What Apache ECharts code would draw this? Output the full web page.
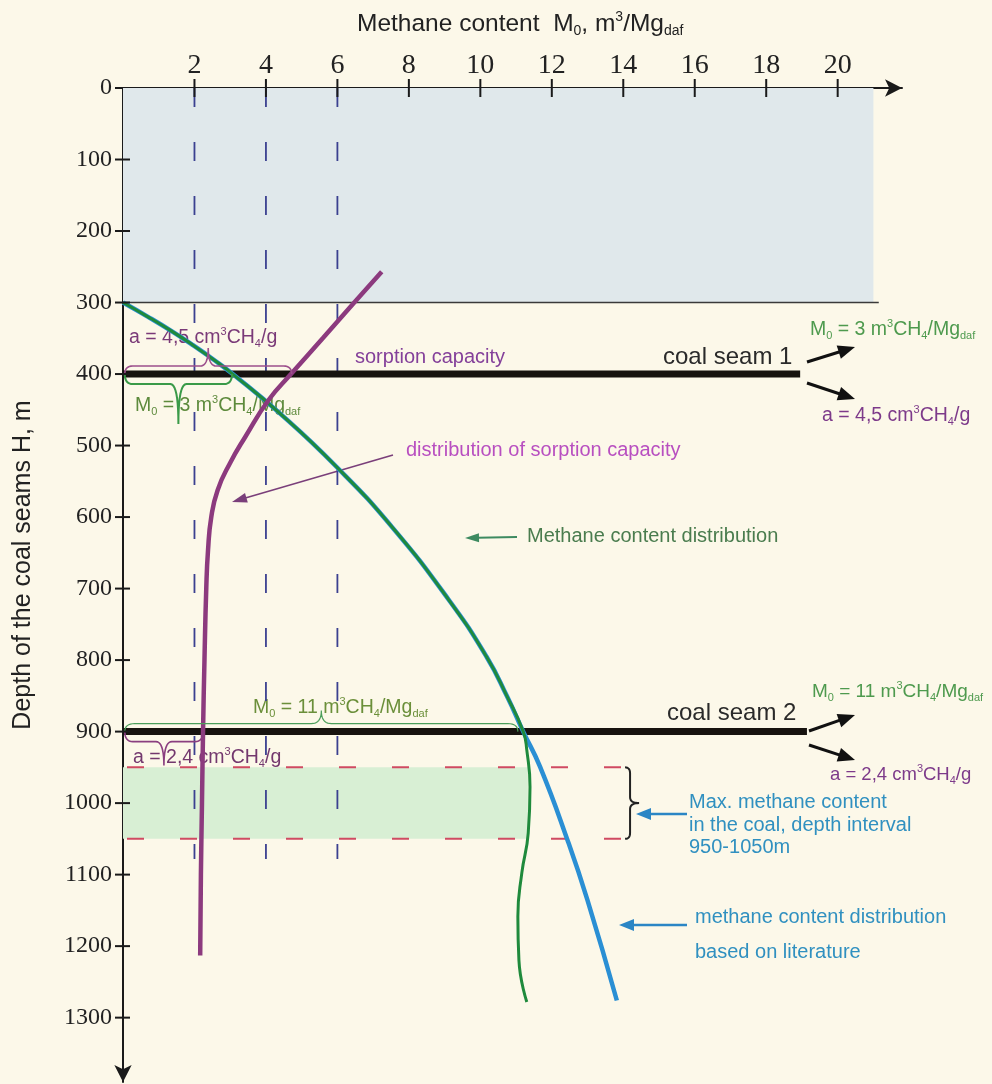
<!DOCTYPE html>
<html><head><meta charset="utf-8">
<script src="https://cdn.jsdelivr.net/npm/echarts@6/dist/echarts.min.js"></script>
<style>html,body{margin:0;padding:0;background:#fcf8e9}#c{width:992px;height:1084px}</style>
</head><body><div id="c"></div>
<script>
// ---------------- data ----------------
const xTickValues = [2, 4, 6, 8, 10, 12, 14, 16, 18, 20];
const depthTickValues = [0, 100, 200, 300, 400, 500, 600, 700, 800, 900, 1000, 1100, 1200, 1300];

const overburdenDepth = [0, 300];
const overburdenXMax = 21;
const maxZoneDepth = [950, 1050];
const maxZoneXMax = 11.33;
const maxZoneLineXMax = 14.05;
const guideX = [2, 4, 6];
const guideDepthEnd = 1078;
const coalSeamDepth = [400, 900];
const coalSeamXEnd = [18.95, 19.14];

// methane content distribution (green)
const methaneDepth = [300, 320, 340, 360, 380, 400, 455, 530, 614, 716, 795, 850, 900, 926, 977, 1042, 1098, 1159, 1220, 1278];
const methaneX     = [0, 0.70, 1.36, 1.97, 2.54, 3.07, 4.39, 5.98, 7.53, 9.12, 10.17, 10.74, 11.2, 11.3, 11.39, 11.34, 11.16, 11.05, 11.08, 11.3];
// methane content distribution based on literature (blue)
const literatureDepth = [300, 320, 340, 360, 380, 400, 455, 530, 614, 716, 795, 850, 900, 949, 1049, 1136, 1276];
const literatureX     = [0, 0.70, 1.36, 1.97, 2.54, 3.07, 4.39, 5.98, 7.53, 9.12, 10.17, 10.74, 11.2, 11.67, 12.42, 13.0, 13.82];
// sorption capacity distribution (purple)
const sorptionDepth = [257, 299, 350, 399, 436, 488, 525, 562, 600, 646, 700, 800, 900, 1000, 1100, 1213];
const sorptionX     = [7.24, 6.49, 5.59, 4.72, 4.08, 3.42, 2.99, 2.65, 2.47, 2.38, 2.33, 2.28, 2.24, 2.21, 2.18, 2.16];

// brace spans: [xStart, xEnd, depth]
const braceSorption1 = [0.05, 4.72, 400];
const braceMethane1  = [0.05, 3.05, 400];
const braceMethane2  = [0.05, 11.05, 900];
const braceSorption2 = [0.05, 2.24, 900];

// ---------------- helpers ----------------
const pairs = (xs, ys) => xs.map((x, i) => [x, ys[i]]);
const SANS = 'Liberation Sans';
const SERIF = 'Liberation Serif';

function quad(pts, p0, c, p1, n) {
  for (let i = 1; i <= n; i++) {
    const t = i / n, u = 1 - t;
    pts.push([u*u*p0[0] + 2*u*t*c[0] + t*t*p1[0], u*u*p0[1] + 2*u*t*c[1] + t*t*p1[1]]);
  }
}
function hBrace(x0, x1, y, s, a, t, r) {
  const xm = (x0 + x1) / 2, h = y + s*a, tip = y + s*t;
  const pts = [[x0, y]];
  quad(pts, [x0, y], [x0, h], [x0 + r, h], 8);
  pts.push([xm - r, h]);
  quad(pts, [xm - r, h], [xm, h], [xm, tip], 10);
  quad(pts, [xm, tip], [xm, h], [xm + r, h], 10);
  pts.push([x1 - r, h]);
  quad(pts, [x1 - r, h], [x1, h], [x1, y], 8);
  return pts;
}
function vBrace(y0, y1, x, s, a, t, r) {
  return hBrace(y0, y1, x, s, a, t, r).map(p => [p[1], p[0]]);
}
function arrow(x1, y1, x2, y2, color, w, hl, hw) {
  const ang = Math.atan2(y2 - y1, x2 - x1), c = Math.cos(ang), s = Math.sin(ang);
  const bx = x2 - hl*c, by = y2 - hl*s;
  return [
    {type: 'line', silent: true, shape: {x1, y1, x2: bx + c*2, y2: by + s*2}, style: {stroke: color, lineWidth: w}},
    {type: 'polygon', silent: true, shape: {points: [[x2, y2], [bx - s*hw/2, by + c*hw/2], [bx + s*hw/2, by - c*hw/2]]}, style: {fill: color}}
  ];
}
function rt(text, x, y, color, size, lh) {
  const sub = Math.round(size * 0.58);
  return {
    type: 'text', x, y, silent: true,
    style: {
      text, fill: color, fontSize: size, fontFamily: SANS, lineHeight: lh || (size + 4),
      verticalAlign: 'middle', align: 'left',
      rich: {
        sub: {fontSize: sub, fontFamily: SANS, fill: color, verticalAlign: 'bottom'},
        sup: {fontSize: sub, fontFamily: SANS, fill: color, verticalAlign: 'top'}
      }
    }
  };
}

// ---------------- chart ----------------
const chart = echarts.init(document.getElementById('c'), null, {renderer: 'canvas'});

const lineBase = {type: 'line', symbol: 'none', showSymbol: false, silent: true, animation: false};
const series = [];

// background areas
series.push({
  type: 'custom', silent: true, z: 1, animation: false,
  data: [
    [0, overburdenXMax, overburdenDepth[0], overburdenDepth[1], 0],
    [0, maxZoneXMax, maxZoneDepth[0], maxZoneDepth[1], 1]
  ],
  encode: {x: [0, 1], y: [2, 3]},
  renderItem(params, api) {
    const p0 = api.coord([api.value(0), api.value(2)]);
    const p1 = api.coord([api.value(1), api.value(3)]);
    const fill = api.value(4) === 0 ? '#e0e8eb' : '#d8efd4';
    return {type: 'rect', shape: {x: p0[0], y: p0[1], width: p1[0] - p0[0], height: p1[1] - p0[1]}, style: {fill}};
  }
});
// axis ticks crossing the axis lines
series.push({
  type: 'custom', silent: true, z: 20, animation: false, clip: false,
  data: xTickValues.map(v => [v, 0]),
  encode: {x: 0, y: 1},
  renderItem(params, api) {
    const p = api.coord([api.value(0), api.value(1)]);
    return {type: 'line', shape: {x1: p[0], y1: p[1] - 9, x2: p[0], y2: p[1] + 9}, style: {stroke: '#1a1a1a', lineWidth: 2}};
  }
});
series.push({
  type: 'custom', silent: true, z: 20, animation: false, clip: false,
  data: depthTickValues.map(v => [0, v]),
  encode: {x: 0, y: 1},
  renderItem(params, api) {
    const p = api.coord([api.value(0), api.value(1)]);
    const inner = api.value(1) === 0 ? 0 : 7;
    return {type: 'line', shape: {x1: p[0] - 8, y1: p[1], x2: p[0] + inner, y2: p[1]}, style: {stroke: '#1a1a1a', lineWidth: 2}};
  }
});
// guide dashed verticals
guideX.forEach(x => series.push(Object.assign({}, lineBase, {
  z: 3, data: [[x, 0], [x, guideDepthEnd]],
  lineStyle: {color: '#3b4090', width: 1.8, type: [19, 35]}
})));
// max zone dashed red lines
maxZoneDepth.forEach(d => series.push(Object.assign({}, lineBase, {
  z: 3, data: [[0, d], [maxZoneLineXMax, d]],
  lineStyle: {color: '#d04a62', width: 2, type: [17, 36], dashOffset: 49}
})));
// overburden bottom line
series.push(Object.assign({}, lineBase, {
  z: 3, data: [[0, overburdenDepth[1]], [overburdenXMax + 0.15, overburdenDepth[1]]],
  lineStyle: {color: '#3a3a3a', width: 1.6}
}));
// coal seams
coalSeamDepth.forEach((d, i) => series.push(Object.assign({}, lineBase, {
  z: 4, data: [[0, d], [coalSeamXEnd[i], d]],
  lineStyle: {color: '#17130f', width: 7, cap: 'butt'}
})));
// curves
series.push(Object.assign({}, lineBase, {
  name: 'literature', z: 5, smooth: 0.5, data: pairs(literatureX, literatureDepth),
  lineStyle: {color: '#2a8fd4', width: 4.5}
}));
series.push(Object.assign({}, lineBase, {
  name: 'methane', z: 6, smooth: 0.5, data: pairs(methaneX, methaneDepth),
  lineStyle: {color: '#1f8a3c', width: 3}
}));
series.push(Object.assign({}, lineBase, {
  name: 'sorption', z: 6, smooth: 0.5, data: pairs(sorptionX, sorptionDepth),
  lineStyle: {color: '#8c3a7e', width: 4.5}
}));
// braces
const braceDefs = [
  {v: braceSorption1, s: -1, a: 8, t: 26, r: 8, color: '#9c4f8c', w: 1.6},
  {v: braceMethane1, s: 1, a: 10, t: 50, r: 8, color: '#3a9a48', w: 2},
  {v: braceMethane2, s: -1, a: 8, t: 21, r: 10, color: '#4a9e5a', w: 1.2},
  {v: braceSorption2, s: 1, a: 10, t: 34, r: 8, color: '#8a3f80', w: 1.6}
];
series.push({
  type: 'custom', silent: true, z: 7, animation: false,
  data: braceDefs.map(b => b.v),
  encode: {x: [0, 1], y: 2},
  renderItem(params, api) {
    const b = braceDefs[params.dataIndex];
    const p0 = api.coord([api.value(0), api.value(2)]);
    const p1 = api.coord([api.value(1), api.value(2)]);
    return {type: 'polyline', shape: {points: hBrace(p0[0], p1[0], p0[1], b.s, b.a, b.t, b.r)},
      style: {stroke: b.color, lineWidth: b.w, fill: null}};
  }
});
// max-zone brace (vertical)
series.push({
  type: 'custom', silent: true, z: 7, animation: false,
  data: [[maxZoneLineXMax, maxZoneDepth[0], maxZoneDepth[1]]],
  encode: {x: 0, y: [1, 2]},
  renderItem(params, api) {
    const p0 = api.coord([api.value(0), api.value(1)]);
    const p1 = api.coord([api.value(0), api.value(2)]);
    return {type: 'polyline', shape: {points: vBrace(p0[1], p1[1], p0[0], 1, 5, 14, 6)},
      style: {stroke: '#222', lineWidth: 2, fill: null}};
  }
});

// annotations (graphic)
const G = [];
G.push(rt('Methane content  M{sub|0}, m{sup|3}/Mg{sub|daf}', 357, 24, '#222', 24.5));
G.push({type: 'text', x: 23, y: 565, rotation: Math.PI / 2, silent: true,
  style: {text: 'Depth of the coal seams H, m', fill: '#222', fontSize: 25, fontFamily: SANS, align: 'center', verticalAlign: 'middle'}});
G.push({type: 'text', x: 550, y: 149, silent: true,
  style: {text: 'OVERBURDEN', fill: '#111', fontSize: 26, fontWeight: 'bold', fontFamily: SERIF, align: 'center', verticalAlign: 'middle'}});
G.push(rt('sorption capacity', 355, 357, '#84409a', 20));
G.push(rt('a = 4,5 cm{sup|3}CH{sub|4}/g', 129, 338, '#7a3a78', 19.5));
G.push(rt('M{sub|0} = 3 m{sup|3}CH{sub|4}/Mg{sub|daf}', 135, 406, '#5d8a3c', 19.5));
G.push(rt('distribution of sorption capacity', 406, 450, '#b84fc0', 20));
G.push(...arrow(393, 455, 232, 502, '#7a3f7a', 1.6, 15, 10));
G.push(rt('Methane content distribution', 527, 536, '#4a7c4e', 20));
G.push(...arrow(517, 537, 465, 538, '#3d8a60', 2, 14, 9));
G.push(rt('coal seam 1', 663, 357, '#2a2a2a', 24));
G.push(rt('coal seam 2', 667, 713, '#2a2a2a', 24));
G.push(...arrow(807, 362, 855, 347, '#111', 3, 17, 14));
G.push(...arrow(807, 383, 855, 399, '#111', 3, 17, 14));
G.push(...arrow(809, 731, 855, 715, '#111', 3, 17, 14));
G.push(...arrow(809, 745, 855, 760, '#111', 3, 17, 14));
G.push(rt('M{sub|0} = 3 m{sup|3}CH{sub|4}/Mg{sub|daf}', 810, 330, '#4e9a4e', 19.5));
G.push(rt('a = 4,5 cm{sup|3}CH{sub|4}/g', 822, 416, '#7d3a8a', 19.5));
G.push(rt('M{sub|0} = 11 m{sup|3}CH{sub|4}/Mg{sub|daf}', 812, 692, '#4e9a4e', 19));
G.push(rt('a = 2,4 cm{sup|3}CH{sub|4}/g', 830, 775, '#7d3a8a', 18.5));
G.push(rt('M{sub|0} = 11 m{sup|3}CH{sub|4}/Mg{sub|daf}', 253, 708, '#6b8f3a', 19.5));
G.push(rt('a = 2,4 cm{sup|3}CH{sub|4}/g', 133, 758, '#73386e', 19.5));
G.push({type: 'text', x: 689, y: 825, silent: true,
  style: {text: 'Max. methane content\nin the coal, depth interval\n950-1050m', fill: '#3090c0', fontSize: 20, fontFamily: SANS, lineHeight: 22.5, align: 'left', verticalAlign: 'middle'}});
G.push(...arrow(687, 814, 636, 814, '#2b86c5', 2.5, 15, 12));
G.push(rt('methane content distribution', 695, 917, '#3090c0', 20));
G.push(rt('based on literature', 695, 952, '#3090c0', 20));
G.push(...arrow(687, 925, 619, 925, '#2b86c5', 2.5, 15, 12));

chart.setOption({
  animation: false,
  backgroundColor: '#fcf8e9',
  textStyle: {fontFamily: SANS},
  grid: {left: 123, top: 88, width: 779, height: 994, containLabel: false, outerBoundsMode: 'none'},
  xAxis: {
    type: 'value', min: 0, max: 21.8, position: 'top', splitLine: {show: false},
    axisLine: {show: true, onZero: false, lineStyle: {color: '#1a1a1a', width: 2}, symbol: ['none', 'arrow'], symbolSize: [13, 17]},
    axisTick: {show: false},
    axisLabel: {show: true, customValues: xTickValues, fontFamily: SERIF, fontSize: 28, color: '#222', margin: 8, formatter: v => String(v)}
  },
  yAxis: {
    type: 'value', min: 0, max: 1390, inverse: true, position: 'left', splitLine: {show: false},
    axisLine: {show: true, onZero: false, lineStyle: {color: '#1a1a1a', width: 2}, symbol: ['arrow', 'none'], symbolSize: [13, 17]},
    axisTick: {show: false},
    axisLabel: {show: true, customValues: depthTickValues, fontFamily: SERIF, fontSize: 24, color: '#222', margin: 11, formatter: v => String(v)}
  },
  series,
  graphic: {elements: G}
});
</script></body></html>
